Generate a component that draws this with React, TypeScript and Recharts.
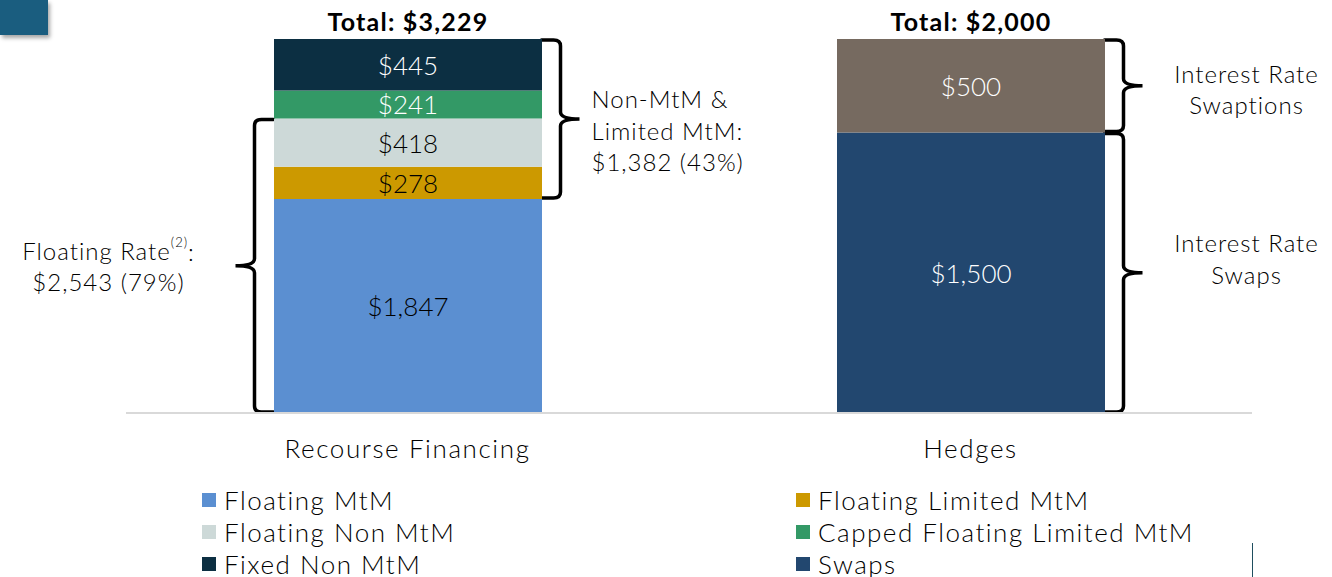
import { Bar, BarChart, LabelList, Legend, ReferenceArea, XAxis, YAxis } from 'recharts'

const categories = ['Recourse Financing', 'Hedges']
const floatingMtm = [1847, 0]
const floatingLimitedMtm = [278, 0]
const floatingNonMtm = [418, 0]
const cappedFloatingLimitedMtm = [241, 0]
const fixedNonMtm = [445, 0]
const swaps = [0, 1500]
const swaptions = [0, 500]
const totals = [3229, 2000]

const floatingRateLines = ['Floating Rate', '$2,543 (79%)']
const floatingRateFootnote = '(2)'
const nonMtmLines = ['Non-MtM &', 'Limited MtM:', '$1,382 (43%)']
const swaptionLines = ['Interest Rate', 'Swaptions']
const swapLines = ['Interest Rate', 'Swaps']

const FONT = 'Lato, sans-serif'
const BAR_SIZE = 268

const SERIES = [
  { key: 'floatingMtm', name: 'Floating MtM', values: floatingMtm, color: '#5b8fd1', text: '#000' },
  { key: 'floatingLimitedMtm', name: 'Floating Limited MtM', values: floatingLimitedMtm, color: '#cc9900', text: '#000' },
  { key: 'floatingNonMtm', name: 'Floating Non MtM', values: floatingNonMtm, color: '#cdd9d8', text: '#000' },
  { key: 'cappedFloatingLimitedMtm', name: 'Capped Floating Limited MtM', values: cappedFloatingLimitedMtm, color: '#339966', text: '#fff' },
  { key: 'fixedNonMtm', name: 'Fixed Non MtM', values: fixedNonMtm, color: '#0c2f42', text: '#fff' },
  { key: 'swaps', name: 'Swaps', values: swaps, color: '#22476f', text: '#fff' },
  { key: 'swaptions', name: 'Swaptions', values: swaptions, color: '#766a60', text: '#fff' },
]

// legend reads row by row, two columns
const LEGEND_ORDER = ['floatingMtm', 'floatingLimitedMtm', 'floatingNonMtm', 'cappedFloatingLimitedMtm', 'fixedNonMtm', 'swaps']
// the top segment of each stack carries the total
const TOP_KEYS = ['fixedNonMtm', 'swaptions']

const data = categories.map((category, i) => {
  const row: Record<string, string | number> = { category, total: totals[i] }
  SERIES.forEach((s) => {
    row[s.key] = s.values[i]
  })
  return row
})

const share = (v: number, i: number) => v / totals[i]
const floatingTop = share(floatingMtm[0] + floatingLimitedMtm[0] + floatingNonMtm[0], 0)
const nonMtmBottom = share(floatingMtm[0], 0)
const swapsTop = share(swaps[1], 1)

type BraceOpts = {
  side: 'left' | 'right'
  lines: string[]
  anchor: 'start' | 'middle' | 'end'
  textDx: number
  lineDy: number[]
  footnote?: string
}

function makeBrace(opts: BraceOpts) {
  return (props: any) => {
    const { x, y, width, height } = props
    const cx = x + width / 2
    const d = opts.side === 'left' ? -1 : 1
    const edge = cx + (d * BAR_SIZE) / 2
    const vx = edge + d * 19
    const tip = vx + d * 19
    const top = y
    const bottom = y + height
    const m = (top + bottom) / 2
    const r = 7
    const path = [
      `M${edge},${top + 1}`,
      `L${vx - d * r},${top + 1}`,
      `Q${vx},${top + 1} ${vx},${top + r}`,
      `L${vx},${m - r}`,
      `Q${vx},${m} ${tip},${m}`,
      `Q${vx},${m} ${vx},${m + r}`,
      `L${vx},${bottom - r}`,
      `Q${vx},${bottom - 1} ${vx - d * r},${bottom - 1}`,
      `L${edge},${bottom - 1}`,
    ].join(' ')
    return (
      <g>
        <path d={path} fill="none" stroke="#000" strokeWidth={3.5} strokeLinecap="round" />
        {opts.lines.map((line, i) => (
          <text
            key={i}
            x={tip + opts.textDx}
            y={m + opts.lineDy[i]}
            textAnchor={opts.anchor}
            dominantBaseline="central"
            fontFamily={FONT}
            fontWeight={300}
            fontSize={24}
            letterSpacing={1}
            fill="#000"
          >
            {line}
            {i === 0 && opts.footnote ? (
              <>
                <tspan fontSize={13} dy={-9}>
                  {opts.footnote}
                </tspan>
                <tspan dy={9}>:</tspan>
              </>
            ) : null}
          </text>
        ))}
      </g>
    )
  }
}

function SegmentLabel({ color }: { color: string }) {
  return (props: any) => {
    const { x, y, width, height, value } = props
    if (!value) return null
    return (
      <text
        x={x + width / 2}
        y={y + height / 2}
        textAnchor="middle"
        dominantBaseline="central"
        fontFamily={FONT}
        fontWeight={300}
        fontSize={26}
        fill={color}
      >
        ${Number(value).toLocaleString('en-US')}
      </text>
    )
  }
}

function TotalLabel(props: any) {
  const { x, y, width, value } = props
  if (!value) return null
  return (
    <text
      x={x + width / 2}
      y={y - 8}
      textAnchor="middle"
      fontFamily={FONT}
      fontWeight={700}
      fontSize={25}
      letterSpacing={1.2}
      fill="#000"
    >
      Total: ${Number(value).toLocaleString('en-US')}
    </text>
  )
}

function LegendContent(props: any) {
  const payload = props.payload || []
  const items = LEGEND_ORDER.map((k) => payload.find((p: any) => p.dataKey === k)).filter(Boolean)
  return (
    <div style={{ position: 'relative', width: 1332, height: 93, fontFamily: FONT }}>
      {items.map((item: any, i: number) => {
        const col = i % 2
        const row = Math.floor(i / 2)
        return (
          <div
            key={item.dataKey}
            style={{
              position: 'absolute',
              left: col === 0 ? 202 : 796,
              top: row * 32,
              height: 32,
              display: 'flex',
              alignItems: 'center',
              whiteSpace: 'nowrap',
            }}
          >
            <span style={{ width: 14, height: 14, background: item.color, display: 'inline-block', marginRight: 8 }} />
            <span style={{ fontSize: 26, fontWeight: 300, color: '#000', letterSpacing: 1.5 }}>{item.value}</span>
          </div>
        )
      })}
    </div>
  )
}

export default function App() {
  return (
    <div style={{ position: 'absolute', left: 0, top: 0, width: 1332, height: 577, overflow: 'hidden', background: '#fff' }}>
      <div
        style={{
          position: 'absolute',
          left: 0,
          top: 0,
          width: 48,
          height: 35,
          background: '#1a5d7f',
          boxShadow: '2px 3px 4px rgba(0,0,0,0.35)',
          zIndex: 2,
        }}
      />
      <div style={{ position: 'absolute', left: 1252, top: 543, width: 1, height: 34, background: '#1f4e5f', zIndex: 2 }} />
      <BarChart
        width={1332}
        height={577}
        data={data}
        stackOffset="expand"
        margin={{ top: 39, right: 80, left: 126, bottom: 11 }}
      >
        <XAxis
          dataKey="category"
          axisLine={{ stroke: '#d9d9d9', strokeWidth: 2 }}
          tickLine={false}
          tickMargin={21}
          height={60}
          tick={{ fontFamily: FONT, fontWeight: 300, fontSize: 26, fill: '#000', letterSpacing: 1.6 }}
        />
        <YAxis hide type="number" domain={[0, 1]} />
        {SERIES.map((s) => (
          <Bar
            key={s.key}
            dataKey={s.key}
            name={s.name}
            stackId="a"
            fill={s.color}
            barSize={BAR_SIZE}
            isAnimationActive={false}
          >
            <LabelList dataKey={s.key} content={SegmentLabel({ color: s.text })} />
            {TOP_KEYS.includes(s.key) ? <LabelList dataKey="total" content={TotalLabel} /> : null}
          </Bar>
        ))}
        <ReferenceArea
          x1={categories[0]}
          x2={categories[0]}
          y1={0}
          y2={floatingTop}
          shape={makeBrace({
            side: 'left',
            lines: floatingRateLines,
            footnote: floatingRateFootnote,
            anchor: 'middle',
            textDx: -127,
            lineDy: [-15, 16],
          })}
        />
        <ReferenceArea
          x1={categories[0]}
          x2={categories[0]}
          y1={nonMtmBottom}
          y2={1}
          shape={makeBrace({ side: 'right', lines: nonMtmLines, anchor: 'start', textDx: 12, lineDy: [-21, 11, 42] })}
        />
        <ReferenceArea
          x1={categories[1]}
          x2={categories[1]}
          y1={swapsTop}
          y2={1}
          shape={makeBrace({ side: 'right', lines: swaptionLines, anchor: 'middle', textDx: 104, lineDy: [-12, 19] })}
        />
        <ReferenceArea
          x1={categories[1]}
          x2={categories[1]}
          y1={0}
          y2={swapsTop}
          shape={makeBrace({ side: 'right', lines: swapLines, anchor: 'middle', textDx: 104, lineDy: [-30, 2] })}
        />
        <Legend
          verticalAlign="bottom"
          content={LegendContent}
          wrapperStyle={{ top: 484, left: 0, width: 1332, height: 93 }}
        />
      </BarChart>
    </div>
  )
}
